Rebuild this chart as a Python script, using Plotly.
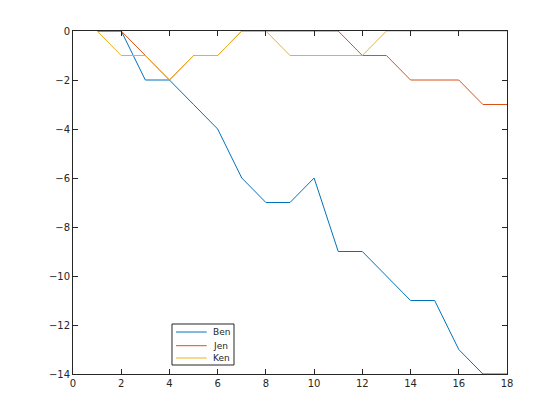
import plotly.graph_objects as go

x = list(range(1, 19))
ben = [0, 0, -2, -2, -3, -4, -6, -7, -7, -6, -9, -9, -10, -11, -11, -13, -14, -14]
jen = [0, 0, -1, -2, -1, -1, 0, 0, 0, 0, 0, -1, -1, -2, -2, -2, -3, -3]
ken = [0, -1, -1, -2, -1, -1, 0, 0, -1, -1, -1, -1, 0, 0, 0, 0, 0, 0]
names = ["Ben", "Jen", "Ken"]
colors = ["#0072BD", "#D95319", "#EDB120"]

fig = go.Figure()
for name, ys, c in zip(names, [ben, jen, ken], colors):
    fig.add_trace(go.Scatter(x=x, y=ys, mode="lines", name=name,
                             line=dict(color=c, width=1), showlegend=False))

axis_common = dict(showgrid=False, zeroline=False, showline=True, linecolor="#262626",
                   linewidth=1, mirror="ticks", ticks="inside", ticklen=5,
                   tickcolor="#262626", tickfont=dict(family="DejaVu Sans", size=10, color="#262626"))
fig.update_xaxes(range=[0, 18], tickvals=list(range(0, 19, 2)), **axis_common)
fig.update_yaxes(range=[-14, 0], tickvals=list(range(-14, 1, 2)), **axis_common)

# compact MATLAB-style legend box (paper coordinates)
box_x0, box_x1, box_y0, box_y1 = 0.2281, 0.371, 0.0262, 0.1458
line_x0, line_x1, text_x = 0.2373, 0.3081, 0.3173
row_y = [0.1224, 0.0825, 0.0466]
fig.add_shape(type="rect", xref="paper", yref="paper", x0=box_x0, x1=box_x1,
              y0=box_y0, y1=box_y1, line=dict(color="#262626", width=1),
              fillcolor="white", layer="above")
for name, c, ry in zip(names, colors, row_y):
    fig.add_shape(type="line", xref="paper", yref="paper", x0=line_x0, x1=line_x1,
                  y0=ry, y1=ry, line=dict(color=c, width=1), layer="above")
    fig.add_annotation(xref="paper", yref="paper", x=text_x, y=ry, text=name,
                       showarrow=False, xanchor="left", yanchor="middle",
                       font=dict(family="DejaVu Sans", size=9, color="#262626"))

fig.update_layout(
    width=560, height=420,
    margin=dict(l=65, r=61, t=23, b=54),
    plot_bgcolor="white", paper_bgcolor="white",
    showlegend=False,
)
fig.write_html("out.html")
